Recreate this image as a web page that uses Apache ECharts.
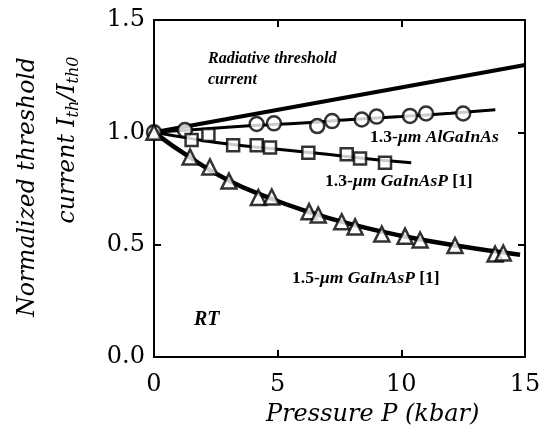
<!DOCTYPE html>
<html>
<head>
<meta charset="utf-8">
<script src="https://cdn.jsdelivr.net/npm/echarts@6/dist/echarts.min.js"></script>
<style>
  html, body { margin: 0; padding: 0; background: #fff; }
  #chart { width: 545px; height: 446px; }
</style>
</head>
<body>
<div id="chart"></div>
<script>
    // values
    var xTicks = [0, 5, 10, 15];
    var yTicks = [0.0, 0.5, 1.0, 1.5];

    // radiative threshold current (straight line)
    var radiative = [[0, 1.0], [15, 1.30]];

    // 1.3-um AlGaInAs (circles)
    var alP = [0, 1.25, 4.15, 4.85, 6.6, 7.2, 8.4, 9.0, 10.35, 11.0, 12.5];
    var alI = [1.0, 1.01, 1.037, 1.04, 1.028, 1.05, 1.057, 1.07, 1.073, 1.084, 1.084];
    var alFit = [[0, 1.0], [2, 1.015], [4, 1.03], [6, 1.042], [8, 1.057], [10, 1.07], [12, 1.085], [13.8, 1.10]];

    // 1.3-um GaInAsP [1] (squares)
    var gaP13 = [1.52, 2.2, 3.2, 4.15, 4.69, 6.24, 7.79, 8.33, 9.34];
    var gaI13 = [0.966, 0.988, 0.943, 0.943, 0.932, 0.909, 0.903, 0.884, 0.865];
    var gaFit13 = [[0, 1.0], [1.5, 0.972], [3, 0.948], [5, 0.925], [7, 0.902], [9, 0.878], [10.4, 0.865]];

    // 1.5-um GaInAsP [1] (triangles)
    var gaP15 = [0, 1.46, 2.26, 3.03, 4.22, 4.76, 6.27, 6.64, 7.59, 8.13, 9.21, 10.15, 10.76, 12.17, 13.79, 14.12];
    var gaI15 = [1.0, 0.89, 0.846, 0.783, 0.71, 0.712, 0.647, 0.632, 0.602, 0.579, 0.547, 0.538, 0.521, 0.496, 0.458, 0.463];
    var gaFit15 = [[0, 1.0], [1.5, 0.885], [3, 0.787], [4.5, 0.715], [6, 0.655], [8, 0.59], [10, 0.54], [12, 0.5], [14.8, 0.455]];

    var serif = '"Liberation Serif", "DejaVu Serif", serif';
    var wide = '"DejaVu Serif", serif';

    function pairs(xs, ys) {
        var data = [];
        for (var i in xs) {
            data.push([xs[i], ys[i]]);
        }
        return data;
    }

    function fitLine(data, width) {
        return {
            type: 'line', data: data, symbol: 'none', smooth: true, z: 2,
            lineStyle: {color: '#000', width: width}
        };
    }

    function markers(data, symbol, size) {
        return {
            type: 'scatter', data: data, symbol: symbol, symbolSize: size, z: 3,
            itemStyle: {color: '#fff', borderColor: '#000', borderWidth: 2.5}
        };
    }

    // axis line + inward ticks, never snapped to zero of the other axis
    function frame(position, labels) {
        var ax = {
            type: 'value', position: position,
            axisLine: {show: true, onZero: false, lineStyle: {color: '#000', width: 2}},
            axisTick: {show: true, inside: true, length: 7, lineStyle: {color: '#000', width: 2}},
            splitLine: {show: false},
            axisLabel: {show: false}
        };
        if (labels) {
            ax.axisLabel = labels;
        }
        return ax;
    }

    var xBottom = frame('bottom', {fontFamily: wide, fontSize: 24, color: '#000', margin: 16});
    var xTop = frame('top');
    var yLeft = frame('left', {
        fontFamily: wide, fontSize: 24, color: '#000', margin: 9,
        formatter: function (v) { return v.toFixed(1); }
    });
    var yRight = frame('right');
    [xBottom, xTop].forEach(function (a) { a.min = xTicks[0]; a.max = xTicks[3]; a.interval = 5; });
    [yLeft, yRight].forEach(function (a) { a.min = yTicks[0]; a.max = yTicks[3]; a.interval = 0.5; });

    var bold = {fontFamily: serif, fontSize: 17.5, fontWeight: 'bold', fill: '#000'};
    var boldIt = {fontFamily: serif, fontSize: 17.5, fontWeight: 'bold', fontStyle: 'italic', fill: '#000'};

    var chart = echarts.init(document.getElementById('chart'), null, {renderer: 'canvas'});

    var option = {
        animation: false,
        backgroundColor: '#fff',
        grid: {left: 154, right: 20, top: 20, bottom: 89},
        xAxis: [xBottom, xTop],
        yAxis: [yLeft, yRight],
        series: [
            fitLine(radiative, 4),
            fitLine(alFit, 3),
            fitLine(gaFit13, 3),
            fitLine(gaFit15, 4.5),
            markers(pairs(alP, alI), 'circle', 14),
            markers(pairs(gaP13, gaI13), 'rect', 12),
            markers(pairs(gaP15, gaI15), 'triangle', 15)
        ],
        graphic: [
            {
                type: 'text', left: 208, top: 48,
                style: {
                    text: 'Radiative threshold\ncurrent', fontFamily: serif, fontSize: 16,
                    fontStyle: 'italic', fontWeight: 'bold', fill: '#000', lineHeight: 21
                }
            },
            {
                type: 'text', left: 370, top: 128,
                style: {text: '{n|1.3-}{i|µm AlGaInAs}', rich: {n: bold, i: boldIt}}
            },
            {
                type: 'text', left: 325, top: 172,
                style: {text: '{n|1.3-}{i|µm GaInAsP}{n| [1]}', rich: {n: bold, i: boldIt}}
            },
            {
                type: 'text', left: 292, top: 269,
                style: {text: '{n|1.5-}{i|µm GaInAsP}{n| [1]}', rich: {n: bold, i: boldIt}}
            },
            {
                type: 'text', left: 194, top: 310,
                style: {
                    text: 'RT', fontFamily: serif, fontSize: 20, fontStyle: 'italic',
                    fontWeight: 'bold', fill: '#000'
                }
            },
            {
                type: 'text', left: 266, top: 403,
                style: {
                    text: 'Pressure P (kbar)', fontFamily: wide, fontSize: 24,
                    fontStyle: 'italic', fill: '#000'
                }
            },
            {
                type: 'text', x: 28, y: 187, rotation: Math.PI / 2,
                style: {
                    text: 'Normalized threshold', fontFamily: wide, fontSize: 23.5,
                    fontStyle: 'italic', fill: '#000', align: 'center', verticalAlign: 'middle'
                }
            },
            {
                type: 'text', x: 68, y: 140, rotation: Math.PI / 2,
                style: {
                    text: '{t|current I}{s|th}{t|/I}{s|th0}',
                    align: 'center', verticalAlign: 'middle',
                    rich: {
                        t: {fontFamily: wide, fontSize: 23.5, fontStyle: 'italic', fill: '#000'},
                        s: {fontFamily: wide, fontSize: 16, fontStyle: 'italic', fill: '#000', padding: [12, 0, 0, 0]}
                    }
                }
            }
        ]
    };
    chart.setOption(option);
</script>
</body>
</html>
